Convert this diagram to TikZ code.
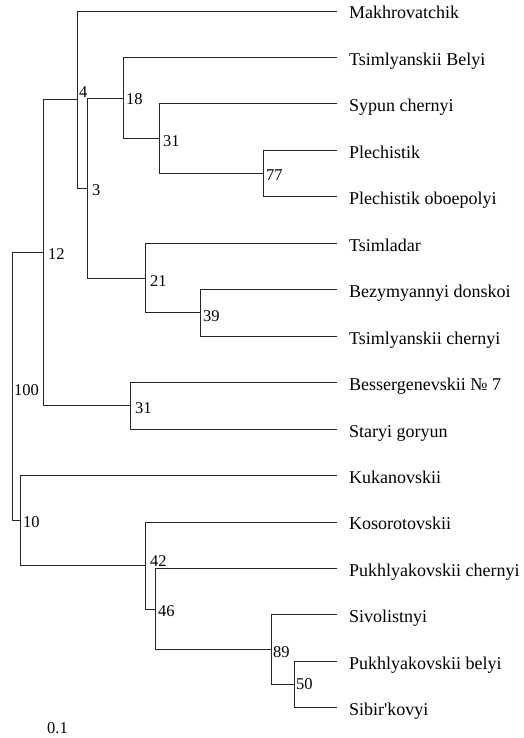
\documentclass[tikz,border=0pt]{standalone}
\usepackage{fontspec}
\setmainfont{Liberation Serif}
\begin{document}
\begin{tikzpicture}[x=1pt,y=-1pt,
  branch/.style={draw=black!85,line width=0.9pt},
  leaflab/.style={anchor=base west,inner sep=0pt,font=\fontsize{18}{20}\selectfont},
  boot/.style={anchor=base west,inner sep=0pt,font=\fontsize{16.5}{18}\selectfont}]
\useasboundingbox (0,0) rectangle (524,738);
% leaf tips
\foreach \i in {1,...,16}{\coordinate (t\i) at (337,{11+46.45*(\i-1)});}
% internal nodes
\coordinate (n77) at (263,173.6);
\coordinate (n31a) at (159,138.7);
\coordinate (n18) at (123,98.1);
\coordinate (n39) at (200,312.9);
\coordinate (n21) at (145,278.1);
\coordinate (n3) at (87,188.1);
\coordinate (n4) at (77,99.6);
\coordinate (n31b) at (130,405.8);
\coordinate (n12) at (43,252.7);
\coordinate (n50) at (294,684.5);
\coordinate (n89) at (271,649.7);
\coordinate (n46) at (155,609.05);
\coordinate (n42) at (145,565.5);
\coordinate (n10) at (20,520.5);
\coordinate (n100) at (12,386.6);
% brackets
\draw[branch] (t4) -- (n77 |- t4) -- (n77 |- t5) -- (t5);
\draw[branch] (t3) -- (n31a |- t3) -- (n31a |- n77) -- (n77);
\draw[branch] (t2) -- (n18 |- t2) -- (n18 |- n31a) -- (n31a);
\draw[branch] (t7) -- (n39 |- t7) -- (n39 |- t8) -- (t8);
\draw[branch] (t6) -- (n21 |- t6) -- (n21 |- n39) -- (n39);
\draw[branch] (n18) -- (n3 |- n18) -- (n3 |- n21) -- (n21);
\draw[branch] (t1) -- (n4 |- t1) -- (n4 |- n3) -- (n3);
\draw[branch] (t9) -- (n31b |- t9) -- (n31b |- t10) -- (t10);
\draw[branch] (n4) -- (n12 |- n4) -- (n12 |- n31b) -- (n31b);
\draw[branch] (t15) -- (n50 |- t15) -- (n50 |- t16) -- (t16);
\draw[branch] (t14) -- (n89 |- t14) -- (n89 |- n50) -- (n50);
\draw[branch] (t13) -- (n46 |- t13) -- (n46 |- n89) -- (n89);
\draw[branch] (t12) -- (n42 |- t12) -- (n42 |- n46) -- (n46);
\draw[branch] (t11) -- (n10 |- t11) -- (n10 |- n42) -- (n42);
\draw[branch] (n12) -- (n100 |- n12) -- (n100 |- n10) -- (n10);
% leaf labels
\node[leaflab] (L1) at (349,19) {Makhrovatchik};
\node[leaflab] (L2) at (349,65.45) {Tsimlyanskii Belyi};
\node[leaflab] (L3) at (349,111.9) {Sypun chernyi};
\node[leaflab] (L4) at (349,158.35) {Plechistik};
\node[leaflab] (L5) at (349,204.8) {Plechistik oboepolyi};
\node[leaflab] (L6) at (349,251.25) {Tsimladar};
\node[leaflab] (L7) at (349,297.7) {Bezymyannyi donskoi};
\node[leaflab] (L8) at (349,344.15) {Tsimlyanskii chernyi};
\node[leaflab] (L9) at (349,390.6) {Bessergenevskii № 7};
\node[leaflab] (L10) at (349,437.05) {Staryi goryun};
\node[leaflab] (L11) at (349,483.5) {Kukanovskii};
\node[leaflab] (L12) at (349,529.95) {Kosorotovskii};
\node[leaflab] (L13) at (349,576.4) {Pukhlyakovskii chernyi};
\node[leaflab] (L14) at (349,622.85) {Sivolistnyi};
\node[leaflab] (L15) at (349,669.3) {Pukhlyakovskii belyi};
\node[leaflab] (L16) at (349,715.75) {Sibir\textquotesingle kovyi};
% bootstrap values
\node[boot] (b4) at (79,98) {4};
\node[boot] (b18) at (126,105) {18};
\node[boot] (b31a) at (163,147) {31};
\node[boot] (b77) at (266,181) {77};
\node[boot] (b3) at (92,195) {3};
\node[boot] (b21) at (150,286) {21};
\node[boot] (b39) at (203,321) {39};
\node[boot] (b12) at (48,259) {12};
\node[boot] (b31b) at (135,413) {31};
\node[boot] (b100) at (14,395) {100};
\node[boot] (b10) at (23,527) {10};
\node[boot] (b42) at (150,566) {42};
\node[boot] (b46) at (158,616) {46};
\node[boot] (b89) at (273,657) {89};
\node[boot] (b50) at (296,689) {50};
\node[boot] (scale) at (47,733) {0.1};
\end{tikzpicture}
\end{document}
